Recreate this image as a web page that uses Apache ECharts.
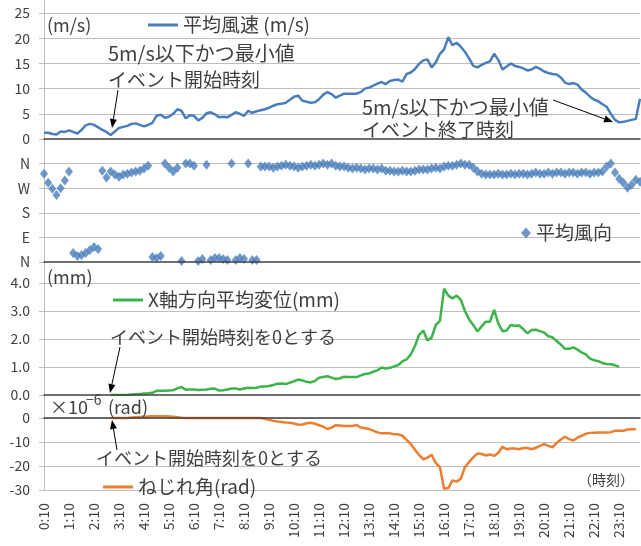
<!DOCTYPE html>
<html>
<head>
<meta charset="utf-8">
<script src="https://cdn.jsdelivr.net/npm/echarts@6/dist/echarts.min.js"></script>
<style>
html, body { margin: 0; padding: 0; background: #fff; }
#chart { width: 641px; height: 546px; }
</style>
</head>
<body>
<div id="chart"></div>
<script>
// 10分ごとの時刻 (0:10 〜 24:00)
const times = []
for (let i = 1; i <= 144; i++) {
  const m = i * 10
  times.push(Math.floor(m / 60) + ':' + String(m % 60).padStart(2, '0'))
}

// 平均風速 (m/s)
const speed = [1.25, 1.25, 1.0, 0.9, 1.5, 1.4, 1.7, 1.4, 1.1, 1.8,
  2.7, 3.0, 2.8, 2.3, 1.8, 1.4, 0.8, 1.5, 2.2, 2.4,
  2.6, 3.0, 3.1, 2.8, 2.5, 2.8, 3.2, 4.6, 4.8, 4.2,
  4.4, 5.0, 5.9, 5.6, 4.1, 4.7, 4.6, 3.7, 4.2, 5.1,
  5.3, 4.9, 4.3, 4.4, 4.3, 4.8, 5.3, 5.0, 4.6, 5.6,
  5.2, 5.5, 5.7, 5.9, 6.2, 6.6, 6.9, 7.0, 7.2, 7.8,
  8.4, 8.6, 7.6, 7.4, 7.2, 7.3, 7.9, 8.8, 9.3, 8.9,
  8.2, 8.6, 9.0, 9.0, 9.0, 9.0, 9.3, 10.0, 10.2, 10.6,
  11.0, 11.3, 10.9, 11.5, 11.7, 11.8, 11.4, 12.9, 13.2, 13.9,
  14.9, 15.6, 15.8, 14.2, 15.2, 16.9, 17.8, 20.2, 18.6, 19.1,
  18.3, 17.3, 16.0, 14.5, 14.2, 14.7, 15.1, 15.4, 16.9, 15.7,
  13.8, 14.4, 15.0, 14.5, 14.3, 14.0, 13.6, 13.8, 14.3, 13.9,
  13.4, 13.1, 12.9, 12.8, 12.2, 11.2, 10.9, 11.1, 10.8, 9.8,
  9.2, 8.4, 7.8, 7.5, 6.9, 6.4, 5.0, 3.8, 3.3, 3.4,
  3.6, 3.8, 4.0, 8.0]

// 平均風向 (度, 0 = N, 90 = E, 180 = S, 270 = W, 360 = N)
const direction = [323, 290, 268, 245, 270, 298, 331, 33, 22, 26,
  33, 44, 55, 48, 334, 309, 331, 320, 312, 320,
  323, 327, 331, 334, 342, 352, 18, 15, 22, 360,
  345, 331, 345, 4, 360, 360, 352, 4, 11, 356,
  7, 15, 15, 11, 7, 360, 7, 15, 11, 360,
  7, 7, 349, 349, 349, 345, 349, 352, 356, 352,
  349, 345, 349, 352, 356, 352, 356, 360, 356, 360,
  352, 349, 349, 345, 342, 345, 342, 338, 342, 342,
  338, 342, 334, 334, 331, 331, 334, 331, 331, 334,
  338, 338, 338, 342, 345, 342, 349, 352, 352, 356,
  360, 356, 356, 345, 331, 323, 320, 320, 320, 323,
  320, 320, 323, 320, 323, 323, 320, 323, 327, 323,
  323, 327, 323, 327, 327, 323, 327, 327, 323, 327,
  327, 323, 327, 327, 331, 349, 360, 327, 305, 290,
  272, 283, 301, 294]

// X軸方向平均変位 (mm)
const disp = [null, null, null, null, null, null, null, null, null, null,
  null, null, null, null, null, null, 0, 0, 0, 0,
  0, 0.02, 0.03, 0.04, 0.05, 0.06, 0.08, 0.15, 0.15, 0.15,
  0.16, 0.17, 0.24, 0.28, 0.19, 0.2, 0.2, 0.18, 0.19, 0.2,
  0.22, 0.23, 0.16, 0.17, 0.2, 0.23, 0.23, 0.2, 0.23, 0.26,
  0.25, 0.26, 0.3, 0.3, 0.32, 0.36, 0.4, 0.41, 0.39, 0.44,
  0.49, 0.55, 0.52, 0.47, 0.45, 0.5, 0.62, 0.64, 0.67, 0.62,
  0.57, 0.6, 0.65, 0.64, 0.64, 0.64, 0.7, 0.75, 0.77, 0.83,
  0.88, 0.98, 0.95, 0.97, 1.02, 1.07, 1.2, 1.27, 1.45, 1.75,
  2.15, 2.3, 1.95, 2.05, 2.5, 2.65, 3.8, 3.55, 3.45, 3.55,
  3.4, 3.0, 2.7, 2.5, 2.27, 2.45, 2.62, 2.62, 3.04, 2.56,
  2.28, 2.3, 2.5, 2.47, 2.48, 2.35, 2.2, 2.32, 2.33, 2.28,
  2.23, 2.1, 2.06, 1.93, 1.8, 1.65, 1.65, 1.7, 1.62, 1.52,
  1.45, 1.3, 1.24, 1.21, 1.14, 1.11, 1.1, 1.06, 1.01, null,
  null, null, null, null]

// ねじれ角 (×10^-6 rad)
const torsion = [null, null, null, null, null, null, null, null, null, null,
  null, null, null, null, null, null, 0, 0, 0, 0,
  0, 0.2, 0.3, 0.4, 0.5, 0.6, 0.7, 0.7, 0.7, 0.7,
  0.6, 0.5, 0.3, 0.1, 0, 0, 0, 0, 0, 0,
  0, 0, 0, 0, 0, 0, 0, 0, 0, 0,
  0, 0, 0, -0.3, -0.7, -1.2, -1.5, -1.7, -1.9, -2.0,
  -2.3, -2.8, -2.7, -2.2, -2.0, -2.4, -3.0, -3.6, -4.6, -4.0,
  -3.0, -3.1, -3.3, -3.3, -3.3, -2.9, -4.0, -4.3, -4.6, -5.3,
  -6.0, -6.4, -6.4, -6.4, -6.8, -6.8, -7.4, -9.1, -10.8, -13.2,
  -15.4, -17.2, -16.5, -15.3, -18.8, -20.5, -29.5, -29.2, -26.0, -26.5,
  -25.3, -20.5, -18.3, -16.4, -14.8, -15.0, -15.6, -15.2, -15.8, -14.5,
  -12.0, -13.0, -12.7, -12.7, -13.0, -12.5, -12.5, -13.0, -12.4, -11.6,
  -10.9, -11.6, -12.2, -10.4, -9.0, -7.8, -8.8, -9.4, -8.2, -7.4,
  -6.6, -6.2, -6.1, -6.0, -6.0, -6.0, -5.9, -5.3, -5.3, -5.3,
  -4.8, -4.7, -4.7, null]

const dirLabels = { 0: 'N', 90: 'E', 180: 'S', 270: 'W', 360: 'N' }

const FONT = '"Noto Sans CJK JP", "Noto Sans", sans-serif'
const TEXT = '#404040'
const GRID_LINE = '#bfbfbf'
const ZERO_LINE = '#404040'
const BLUE = '#4a7ebb'
const GREEN = '#3cb44b'
const ORANGE = '#ed7d31'

const mChart = echarts.init(document.getElementById('chart'))

function xAx(gridIndex, extra) {
  return Object.assign({
    type: 'category',
    gridIndex,
    data: times,
    boundaryGap: false,
    z: 5,
    axisLine: { lineStyle: { color: ZERO_LINE, width: 1.5 } },
    axisTick: { show: false },
    axisLabel: { show: false },
    splitLine: { show: false }
  }, extra)
}

// 各パネルの上端には余白を取り、最大値のラベルと線は隠す
function yAx(gridIndex, min, max, interval, formatter, showMin) {
  return {
    type: 'value',
    gridIndex,
    min,
    max,
    interval,
    axisLine: { show: true, lineStyle: { color: GRID_LINE } },
    axisTick: { show: true, length: 5, lineStyle: { color: GRID_LINE } },
    axisLabel: {
      color: TEXT,
      fontSize: 14,
      fontFamily: FONT,
      margin: 14,
      showMaxLabel: false,
      formatter
    },
    splitLine: {
      show: true,
      showMinLine: showMin,
      showMaxLine: false,
      lineStyle: { color: GRID_LINE, width: 1 }
    }
  }
}

function label(x, y, text, size, extra) {
  return {
    type: 'text',
    x,
    y,
    z: 100,
    style: Object.assign({
      text,
      fill: TEXT,
      font: size + 'px ' + FONT,
      verticalAlign: 'middle'
    }, extra)
  }
}

// 注釈の矢印 (線 + 三角)
function arrow(x1, y1, x2, y2) {
  const a = Math.atan2(y2 - y1, x2 - x1)
  const L = 9
  const W = 3.5
  const bx = x2 - L * Math.cos(a)
  const by = y2 - L * Math.sin(a)
  return [
    { type: 'line', z: 100, shape: { x1, y1, x2: bx, y2: by }, style: { stroke: '#000', lineWidth: 1 } },
    {
      type: 'polygon',
      z: 100,
      shape: {
        points: [[x2, y2], [bx + W * Math.sin(a), by - W * Math.cos(a)], [bx - W * Math.sin(a), by + W * Math.cos(a)]]
      },
      style: { fill: '#000' }
    }
  ]
}

const legendText = { fontSize: 19, color: TEXT, fontFamily: FONT, lineHeight: 22 }

const option = {
  animation: false,
  backgroundColor: '#fff',
  grid: [
    { left: 44, right: 1, top: 0.4, height: 138.6 },
    { left: 44, right: 1, top: 139, height: 123 },
    { left: 44, right: 1, top: 262, height: 133 },
    { left: 44, right: 1, top: 395, height: 95 }
  ],
  xAxis: [
    xAx(0),
    xAx(1),
    xAx(2),
    // ねじれ角の 0 線
    xAx(3, { position: 'top', axisLine: { onZero: true, lineStyle: { color: ZERO_LINE, width: 1.5 } } }),
    // 時刻ラベル
    xAx(3, {
      position: 'bottom',
      axisLine: { show: false, onZero: false },
      axisLabel: {
        show: true,
        interval: 5,
        rotate: 90,
        margin: 13,
        color: TEXT,
        fontSize: 14,
        fontFamily: FONT
      }
    })
  ],
  yAxis: [
    yAx(0, 0, 27.5, 5, null, false),
    yAx(1, 0, 450, 90, v => dirLabels[v] || '', false),
    yAx(2, 0, 4.75, 1, v => v.toFixed(1), false),
    yAx(3, -30, 9.58, 10, null, true)
  ],
  legend: [
    {
      data: [{ name: '平均風速 (m/s)', icon: 'rect' }],
      left: 148, top: 14, padding: 0,
      itemWidth: 30, itemHeight: 3,
      textStyle: legendText
    },
    {
      data: ['平均風向'],
      left: 521, top: 222, padding: 0,
      itemWidth: 10, itemHeight: 11,
      textStyle: legendText
    },
    {
      data: [{ name: 'X軸方向平均変位(mm)', icon: 'rect' }],
      left: 113, top: 289, padding: 0,
      itemWidth: 30, itemHeight: 3,
      textStyle: legendText
    },
    {
      data: [{ name: 'ねじれ角(rad)', icon: 'rect' }],
      left: 103, top: 476, padding: 0,
      itemWidth: 30, itemHeight: 3,
      textStyle: legendText
    }
  ],
  graphic: [
    label(47, 25, '(m/s)', 18),
    label(108, 53, '5m/s以下かつ最小値', 20),
    label(108, 80, 'イベント開始時刻', 19),
    label(362, 107, '5m/s以下かつ最小値', 20),
    label(362, 130, 'イベント終了時刻', 19),
    label(47, 277, '(mm)', 18),
    label(110, 337, 'イベント開始時刻を0とする', 18),
    label(50, 407, '×10', 18),
    label(86, 400, '−6', 14),
    label(108, 407, '(rad)', 18),
    label(96, 458, 'イベント開始時刻を0とする', 18),
    label(578, 480, '（時刻）', 14),
    ...arrow(118, 90, 112, 128),
    ...arrow(553, 100, 613, 122),
    ...arrow(120, 347, 110, 393),
    ...arrow(117, 450, 112, 420)
  ],
  series: [
    {
      name: '平均風速 (m/s)',
      type: 'line',
      xAxisIndex: 0,
      yAxisIndex: 0,
      data: speed,
      symbol: 'none',
      lineStyle: { color: BLUE, width: 2.5 },
      itemStyle: { color: BLUE }
    },
    {
      name: '平均風向',
      type: 'scatter',
      xAxisIndex: 1,
      yAxisIndex: 1,
      data: direction.map((v, i) => [i, v]),
      symbol: 'diamond',
      symbolSize: [8, 10],
      itemStyle: { color: BLUE }
    },
    {
      name: 'X軸方向平均変位(mm)',
      type: 'line',
      xAxisIndex: 2,
      yAxisIndex: 2,
      data: disp,
      symbol: 'none',
      lineStyle: { color: GREEN, width: 2.5 },
      itemStyle: { color: GREEN }
    },
    {
      name: 'ねじれ角(rad)',
      type: 'line',
      xAxisIndex: 3,
      yAxisIndex: 3,
      data: torsion,
      symbol: 'none',
      lineStyle: { color: ORANGE, width: 2.5 },
      itemStyle: { color: ORANGE }
    }
  ]
}

mChart.setOption(option)
</script>
</body>
</html>
